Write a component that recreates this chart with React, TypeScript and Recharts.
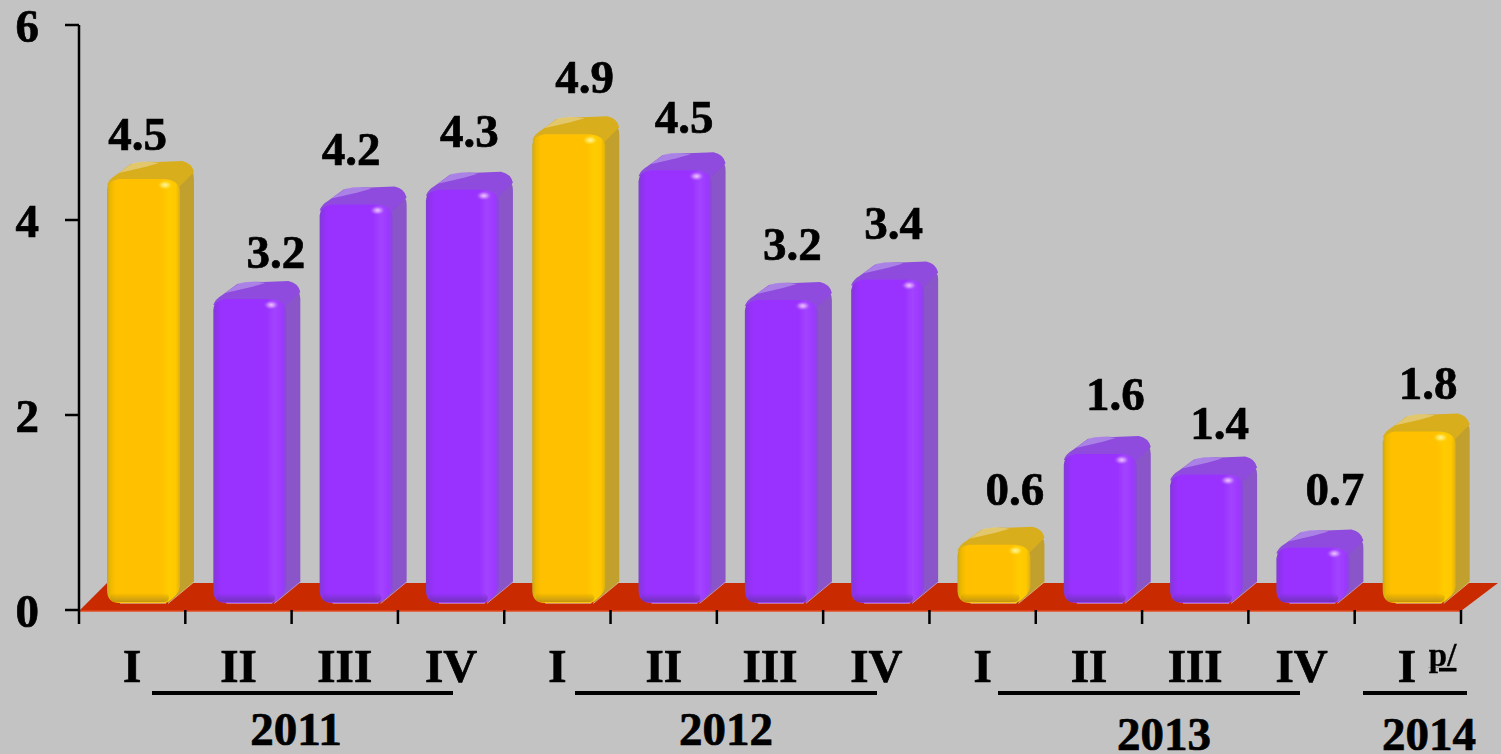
import React from "react";
import { BarChart, Bar, XAxis, YAxis, LabelList, Customized } from "recharts";

const quarters = ["I","II","III","IV","I","II","III","IV","I","II","III","IV","I"];
const printedValues = ["4.5","3.2","4.2","4.3","4.9","4.5","3.2","3.4","0.6","1.6","1.4","0.7","1.8"];
const barHeights = [4.41,3.18,4.15,4.3,4.87,4.5,3.17,3.38,0.66,1.59,1.38,0.63,1.82];
const firstQuarterFlags = [1,0,0,0,1,0,0,0,1,0,0,0,1];
const yTicks = [0,2,4,6];
const years = ["2011","2012","2013","2014"];

// layout only
const labelShiftX = [5,37,6,18,27,20,22,17,32,26,24,33,20];
const labelGapY = [30,32,40,44,42,38,41,41,41,45,36,44,34];
const yearText = [[296,745],[726,745],[1164,750],[1429,750]];
const yearRules = [[152,453],[575,877],[998,1300],[1363,1467]];

const rows = quarters.map((q, i) => ({
  quarter: q,
  height: barHeights[i],
  printed: printedValues[i],
  gold: firstQuarterFlags[i] === 1,
}));

const FONT = "'Liberation Serif','Times New Roman',serif";
const W = 1501, H = 754, BG = "#C3C3C3";
const BAND = 1382 / quarters.length;
const heavy = { stroke: "#000", strokeWidth: 0.7 };

const palette = {
  gold: { grad: "goldFace", side: "#C2A02E", top: "#D9AE1E", sheen: "#E6D28E", spark: "url(#goldSpark)", edge: "#E2CE9A" },
  violet: { grad: "violetFace", side: "#8A55C8", top: "#8E4BDE", sheen: "#B79AE8", spark: "url(#violetSpark)", edge: "#C4A8EC" },
};

function Bar3D(props: any) {
  const { x, y, width, height, payload } = props;
  const p = payload.gold ? palette.gold : palette.violet;
  const L = x + 11, R = L + width;
  const top = y, bottom = y + height - 7;
  const r = Math.min(13, (bottom - top) / 3);
  const backR = R + 14, backTop = top - 19;
  const sideBottom = Math.max(backTop + 22, bottom - 21);
  const shade = payload.gold ? "url(#goldBottom)" : "url(#violetBottom)";
  return (
    <g filter="url(#soften)">
      <path
        d={`M${R - 6} ${top + 2} L${backR - 6} ${backTop + 8} Q${backR} ${backTop + 10} ${backR} ${backTop + 18}
            L${backR} ${sideBottom} L${R - 12} ${bottom} Z`}
        fill={p.side}
      />
      <line x1={R - 12} y1={bottom + 0.5} x2={backR} y2={sideBottom} stroke={p.edge} strokeWidth={1} opacity={0.75} />
      <path
        d={`M${L} ${top + 5} Q${L + 2} ${top - 1} ${L + 9} ${top - 5} L${L + 24} ${backTop + 3} Q${L + 35} ${backTop} ${L + 50} ${backTop + 1}
            L${backR - 12} ${backTop} Q${backR - 2} ${backTop + 2} ${backR} ${backTop + 11} L${R - 2} ${top + 8} Z`}
        fill={p.top}
      />
      <path
        d={`M${L + 12} ${top - 7} L${L + 26} ${backTop + 2} Q${L + 38} ${backTop - 1} ${L + 52} ${backTop + 2} L${L + 38} ${backTop + 6} Z`}
        fill={p.sheen}
        opacity={0.7}
      />
      <path
        d={`M${L} ${top + 10} Q${L} ${top + 1} ${L + 12} ${top - 1} L${R - 16} ${top - 1} Q${R - 2} ${top} ${R} ${top + 10}
            L${R} ${bottom - r - 3} Q${R - 1} ${bottom - 8} ${R - 14} ${bottom} L${L + r} ${bottom} Q${L} ${bottom} ${L} ${bottom - r} Z`}
        fill={`url(#${p.grad})`}
      />
      <rect x={L + 3} y={bottom - 10} width={width - 14} height={9} rx={5} fill={shade} />
      <line x1={L + r} x2={R - 14} y1={bottom + 0.3} y2={bottom + 0.3} stroke={p.edge} strokeWidth={1} opacity={0.75} />
      <ellipse cx={R - 15} cy={top + 5} rx={8} ry={5} fill={p.spark} />
    </g>
  );
}

function Floor() {
  return (
    <g>
      <polygon points="79,611 107,583 1498,583 1461,611" fill="#C92A00" />
      <line x1={79} y1={611} x2={1461} y2={611} stroke="#E24A20" strokeWidth={1.5} />
    </g>
  );
}

function YearMarks() {
  return (
    <g>
      {yearRules.map(([a, b], i) => (
        <line key={i} x1={a} x2={b} y1={693} y2={693} stroke="#000" strokeWidth={4} />
      ))}
      {years.map((t, i) => (
        <text key={t} x={yearText[i][0]} y={yearText[i][1]} textAnchor="middle" fontFamily={FONT} fontWeight="bold" fontSize={47} fill="#000" {...heavy}>
          {t}
        </text>
      ))}
    </g>
  );
}

function QuarterTick(props: any) {
  const { x, payload, index } = props;
  const last = index === quarters.length - 1;
  const edge = x - BAND / 2;
  return (
    <g>
      <line x1={edge} x2={edge} y1={610} y2={624} stroke="#000" strokeWidth={2.5} />
      {last && <line x1={edge + BAND} x2={edge + BAND} y1={610} y2={624} stroke="#000" strokeWidth={2.5} />}
      <text x={last ? x - 1 : x} y={682} textAnchor="middle" fontFamily={FONT} fontWeight="bold" fontSize={47} fill="#000" {...heavy}>
        {payload.value}
      </text>
      {last && (
        <text x={x + 21} y={666} fontFamily={FONT} fontWeight="bold" fontSize={33} textDecoration="underline" fill="#000" stroke="#000" strokeWidth={0.3}>
          p/
        </text>
      )}
    </g>
  );
}

function ValueLabel(props: any) {
  const { x, y, width, value, index } = props;
  return (
    <text
      x={x + width / 2 + labelShiftX[index]}
      y={y - labelGapY[index]}
      textAnchor="middle"
      fontFamily={FONT}
      fontWeight="bold"
      fontSize={47}
      fill="#000"
      {...heavy}
    >
      {value}
    </text>
  );
}

export default function App() {
  return (
    <div style={{ position: "absolute", left: 0, top: 0, width: W, height: H, background: BG, overflow: "hidden" }}>
      <BarChart width={W} height={H} data={rows} margin={{ top: 25, right: 40, bottom: 0, left: 0 }}>
        <defs>
          <filter id="soften" x="-10%" y="-10%" width="120%" height="120%">
            <feGaussianBlur stdDeviation="0.6" />
          </filter>
          <linearGradient id="goldFace" x1="0" x2="1" y1="0" y2="0">
            <stop offset="0" stopColor="#C8A820" />
            <stop offset="0.05" stopColor="#EEB800" />
            <stop offset="0.12" stopColor="#FFC000" />
            <stop offset="0.74" stopColor="#FFC000" />
            <stop offset="0.84" stopColor="#FFCC00" />
            <stop offset="0.94" stopColor="#FFC800" />
            <stop offset="1" stopColor="#DDB010" />
          </linearGradient>
          <linearGradient id="violetFace" x1="0" x2="1" y1="0" y2="0">
            <stop offset="0" stopColor="#7F3FD0" />
            <stop offset="0.05" stopColor="#9030F0" />
            <stop offset="0.12" stopColor="#9933FF" />
            <stop offset="0.74" stopColor="#9933FF" />
            <stop offset="0.84" stopColor="#A343FF" />
            <stop offset="0.94" stopColor="#9C38FF" />
            <stop offset="1" stopColor="#8A48DC" />
          </linearGradient>
          <linearGradient id="goldBottom" x1="0" x2="0" y1="0" y2="1">
            <stop offset="0" stopColor="#B89010" stopOpacity="0" />
            <stop offset="1" stopColor="#B89010" stopOpacity="0.85" />
          </linearGradient>
          <linearGradient id="violetBottom" x1="0" x2="0" y1="0" y2="1">
            <stop offset="0" stopColor="#6A30B0" stopOpacity="0" />
            <stop offset="1" stopColor="#6A30B0" stopOpacity="0.85" />
          </linearGradient>
          <radialGradient id="goldSpark">
            <stop offset="0" stopColor="#FFF4A0" />
            <stop offset="0.45" stopColor="#FFE860" stopOpacity="0.8" />
            <stop offset="1" stopColor="#FFCC00" stopOpacity="0" />
          </radialGradient>
          <radialGradient id="violetSpark">
            <stop offset="0" stopColor="#F0C8FF" />
            <stop offset="0.45" stopColor="#D090FF" stopOpacity="0.8" />
            <stop offset="1" stopColor="#A040FF" stopOpacity="0" />
          </radialGradient>
        </defs>
        <Customized component={Floor} />
        <XAxis
          dataKey="quarter"
          height={144}
          axisLine={false}
          tickLine={false}
          interval={0}
          tick={<QuarterTick />}
        />
        <YAxis
          width={79}
          domain={[0, 6]}
          ticks={yTicks}
          interval={0}
          axisLine={{ stroke: "#000", strokeWidth: 2.5 }}
          tickLine={{ stroke: "#000", strokeWidth: 2.5 }}
          tickSize={14}
          tickMargin={26}
          tick={{ fontFamily: FONT, fontWeight: "bold", fontSize: 47, fill: "#000", stroke: "#000", strokeWidth: 0.7 }}
        />
        <Bar dataKey="height" barSize={73} shape={<Bar3D />} isAnimationActive={false}>
          <LabelList dataKey="printed" content={<ValueLabel />} />
        </Bar>
        <Customized component={YearMarks} />
      </BarChart>
    </div>
  );
}
